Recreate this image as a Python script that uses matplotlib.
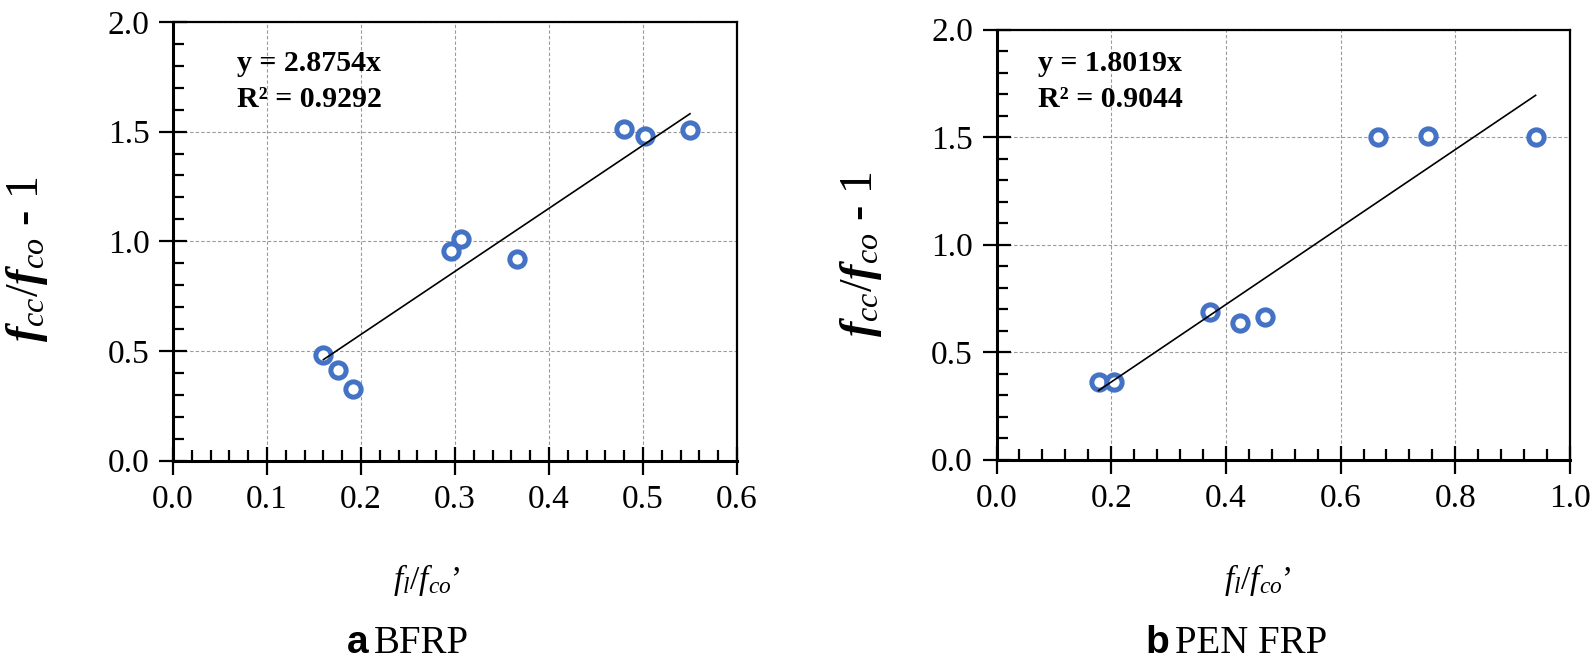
#!/usr/bin/env python3
"""Confinement ratio vs lateral pressure ratio for BFRP and PEN FRP jackets."""

import matplotlib
matplotlib.use("Agg")
import matplotlib.pyplot as plt
import numpy as np
from matplotlib.ticker import MultipleLocator, FormatStrFormatter

plt.rcParams["font.family"] = ["Liberation Serif", "DejaVu Serif"]
plt.rcParams["mathtext.fontset"] = "custom"
plt.rcParams["mathtext.rm"] = "Liberation Serif"
plt.rcParams["mathtext.it"] = "Liberation Serif:italic"
plt.rcParams["mathtext.bf"] = "Liberation Serif:bold"
plt.rcParams["mathtext.bfit"] = "Liberation Serif:italic:bold"

# data
bfrp_x = [0.160, 0.176, 0.191, 0.296, 0.306, 0.366, 0.480, 0.502, 0.550]
bfrp_y = [0.482, 0.415, 0.327, 0.954, 1.008, 0.918, 1.511, 1.480, 1.506]
bfrp_slope = 2.8754
bfrp_r2 = 0.9292

pen_x = [0.178, 0.205, 0.372, 0.425, 0.469, 0.666, 0.753, 0.940]
pen_y = [0.359, 0.359, 0.684, 0.633, 0.664, 1.502, 1.505, 1.502]
pen_slope = 1.8019
pen_r2 = 0.9044

BLUE = "#4472C4"
W, H = 1594, 670


def fx(px):
    return px / W


def fy(py):
    return 1 - py / H


def draw_panel(ax, xs, ys, slope, r2, xmax, xmajor, xminor, text_xy):
    ax.set_xlim(0, xmax)
    ax.set_ylim(0, 2.0)
    ax.xaxis.set_major_locator(MultipleLocator(xmajor))
    ax.xaxis.set_minor_locator(MultipleLocator(xminor))
    ax.yaxis.set_major_locator(MultipleLocator(0.5))
    ax.yaxis.set_minor_locator(MultipleLocator(0.1))
    ax.xaxis.set_major_formatter(FormatStrFormatter("%.1f"))
    ax.yaxis.set_major_formatter(FormatStrFormatter("%.1f"))

    ax.grid(True, which="major", color="#9a9a9a", linestyle=(0, (3, 2)), linewidth=0.8)
    ax.set_axisbelow(True)

    ax.tick_params(which="major", direction="inout", length=20, width=1.6,
                   labelsize=24, pad=7)
    ax.tick_params(which="minor", direction="in", length=8, width=1.6)

    for side in ("left", "bottom"):
        ax.spines[side].set_linewidth(2.2)
    for side in ("top", "right"):
        ax.spines[side].set_linewidth(1.6)

    ax.plot(xs, ys, linestyle="none", marker="o", markersize=11,
            markeredgewidth=3.6, markeredgecolor=BLUE, markerfacecolor="white",
            zorder=3, clip_on=False)
    xfit = np.array([min(xs), max(xs)])
    ax.plot(xfit, slope * xfit, color="black", linewidth=1.2, zorder=4)

    ax.text(text_xy[0], text_xy[1], f"y = {slope:.4f}x\nR² = {r2:.4f}",
            transform=ax.transAxes, ha="left", va="top", fontsize=21.5,
            fontweight="bold", linespacing=1.45)


fig = plt.figure(figsize=(W / 100, H / 100), dpi=100)
ax1 = fig.add_axes([fx(173), fy(460.5), fx(564), 438.5 / H])
ax2 = fig.add_axes([fx(996.5), fy(459.5), fx(573.5), 430 / H])

draw_panel(ax1, bfrp_x, bfrp_y, bfrp_slope, bfrp_r2, 0.6, 0.1, 0.02,
           ((237 - 173) / 564, (460.5 - 50) / 438.5))
draw_panel(ax2, pen_x, pen_y, pen_slope, pen_r2, 1.0, 0.2, 0.04,
           ((1038 - 996.5) / 573.5, (459.5 - 50) / 430))

ylab = r"$\mathbfit{f}_{\mathit{cc}}/\mathbfit{f}_{\mathit{co}}$ - 1"
xlab = r"$\mathit{f}_{\mathit{l}}/\mathit{f}_{\mathit{co}}$’"

fig.text(fx(27), fy(259), ylab, rotation=90, ha="center", va="center", fontsize=33)
fig.text(fx(861), fy(254), ylab, rotation=90, ha="center", va="center", fontsize=33)

fig.text(fx(427), fy(580), xlab, ha="center", va="center", fontsize=24)
fig.text(fx(1258), fy(580), xlab, ha="center", va="center", fontsize=24)

sans = ["Liberation Sans", "DejaVu Sans"]
fig.text(fx(368), fy(653), "a", ha="right", va="baseline", fontsize=28,
         fontweight="bold", family=sans)
fig.text(fx(374), fy(653), "BFRP", ha="left", va="baseline", fontsize=28)
fig.text(fx(1169), fy(653), "b", ha="right", va="baseline", fontsize=28,
         fontweight="bold", family=sans)
fig.text(fx(1175), fy(653), "PEN FRP", ha="left", va="baseline", fontsize=28)

fig.savefig("out.png", dpi=100)
